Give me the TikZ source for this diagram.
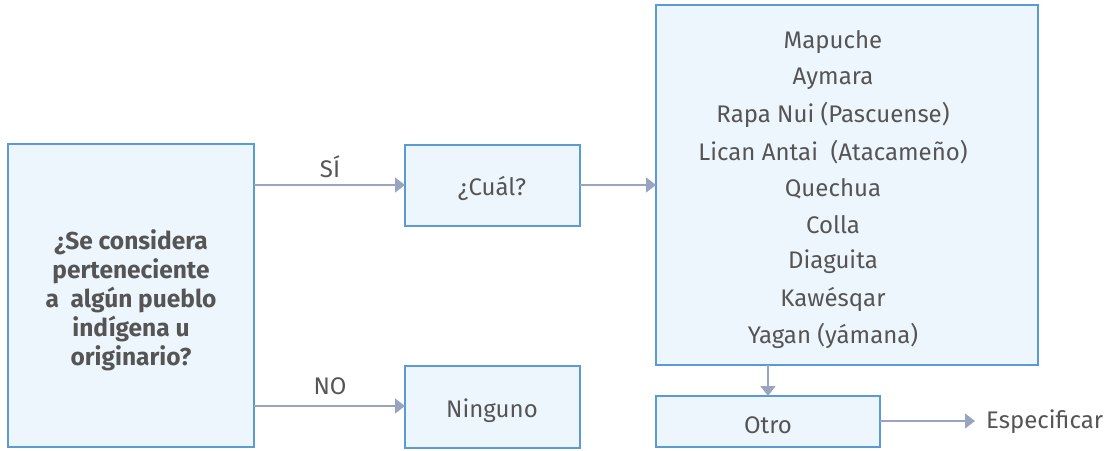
\documentclass[tikz,border=0pt]{standalone}
\usepackage{fontspec}
\setmainfont{Fira Sans}
\usetikzlibrary{arrows.meta}
\definecolor{boxline}{HTML}{5B9BD5}
\definecolor{boxfill}{HTML}{EEF6FD}
\definecolor{arr}{HTML}{98A4C0}
\definecolor{txt}{HTML}{555555}
\tikzset{
  box/.style={draw=boxline, fill=boxfill, line width=1.2pt},
  conn/.style={draw=arr, line width=1.3pt, -{Triangle[length=10pt,width=15pt]}},
  lbl/.style={text=txt, font=\fontsize{24}{28}\selectfont, inner sep=0pt},
  blbl/.style={text=txt, font=\fontsize{24.5}{29}\selectfont\bfseries, inner sep=0pt, align=center}
}
\begin{document}
\begin{tikzpicture}[x=1pt,y=-1pt]
\useasboundingbox (0,0) rectangle (1114,450);
% boxes
\draw[box] (8,144) rectangle (254,447);
\coordinate (qE1) at (254,185);
\coordinate (qE2) at (254,406);
\node[blbl] (q) at (131,300) {¿Se considera\\perteneciente\\a\ \ algún pueblo\\indígena u\\originario?};
\draw[box] (405,145) rectangle (580,226);
\node[lbl] (cual) at (492,188) {¿Cuál?};
\coordinate (cualW) at (405,185);
\coordinate (cualE) at (580,185);
\draw[box] (405,366) rectangle (580,448);
\node[lbl] (ninguno) at (492,411) {Ninguno};
\coordinate (ningW) at (405,406);
\draw[box] (656,5) rectangle (1038,365);
\coordinate (listW) at (656,185);
\coordinate (listS) at (768,365);
\node[lbl] (l1) at (833,42) {Mapuche};
\node[lbl] (l2) at (833,79) {Aymara};
\node[lbl] (l3) at (833,115) {Rapa Nui (Pascuense)};
\node[lbl] (l4) at (833,152) {Lican Antai\ \ (Atacameño)};
\node[lbl] (l5) at (833,189) {Quechua};
\node[lbl] (l6) at (833,225) {Colla};
\node[lbl] (l7) at (833,262) {Diaguita};
\node[lbl] (l8) at (833,299) {Kawésqar};
\node[lbl] (l9) at (833,336) {Yagan (yámana)};
\draw[box] (656,396) rectangle (880,447);
\node[lbl] (otro) at (768,425) {Otro};
\coordinate (otroN) at (768,396);
\coordinate (otroE) at (880,421);
\node[lbl, anchor=west] (esp) at (986,422) {Especificar};
\coordinate (espW) at (975,421);
% labels
\node[lbl] (si) at (330,167) {SÍ};
\node[lbl] (no) at (330,386) {NO};
% connectors
\draw[conn] (qE1) -- (cualW);
\draw[conn] (qE2) -- (ningW);
\draw[conn] (cualE) -- (listW);
\draw[conn] (listS) -- (otroN);
\draw[conn] (otroE) -- (espW);
\end{tikzpicture}
\end{document}
